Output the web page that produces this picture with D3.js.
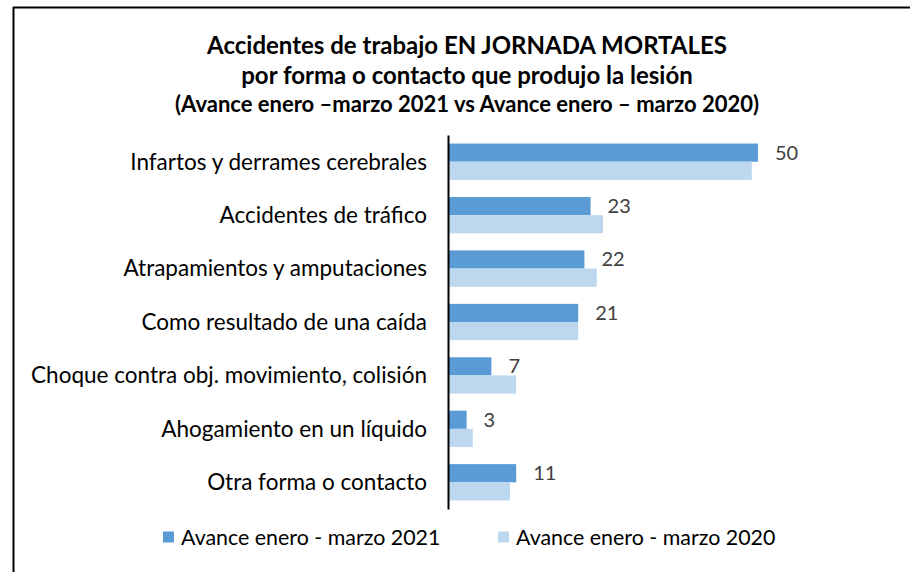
<!DOCTYPE html>
<html>
<head>
<meta charset="utf-8">
<script src="https://cdn.jsdelivr.net/npm/d3@7"></script>
<style>
  body { margin: 0; background: #fff; }
  svg text { font-family: Lato, "Open Sans", sans-serif; }
</style>
</head>
<body>
<div class="canvas"></div>
<script>
// data
const categories = [
  "Infartos y derrames cerebrales",
  "Accidentes de tráfico",
  "Atrapamientos y amputaciones",
  "Como resultado de una caída",
  "Choque contra obj. movimiento, colisión",
  "Ahogamiento en un líquido",
  "Otra forma o contacto",
];
const values2021 = [50, 23, 22, 21, 7, 3, 11];
const values2020 = [49, 25, 24, 21, 11, 4, 10];
const seriesNames = ["Avance enero - marzo 2021", "Avance enero - marzo 2020"];
const titleLines = [
  "Accidentes de trabajo EN JORNADA MORTALES",
  "por forma o contacto que produjo la lesión",
  "(Avance enero –marzo 2021 vs Avance enero – marzo 2020)",
];

// dimensions
const dims = { width: 910, height: 572 };
const plot = { left: 448, top: 135, bottom: 509 };
const colors = ["#5B9BD5", "#BDD7EE"];

const svg = d3
  .select(".canvas")
  .append("svg")
  .attr("width", dims.width)
  .attr("height", dims.height);

// frame (top and left only visible)
svg.append("line")
  .attr("x1", 13).attr("x2", dims.width).attr("y1", 7.5).attr("y2", 7.5)
  .attr("stroke", "#000").attr("stroke-width", 2);
svg.append("line")
  .attr("x1", 13.5).attr("x2", 13.5).attr("y1", 7).attr("y2", dims.height)
  .attr("stroke", "#000").attr("stroke-width", 2);

// title
const titleY = [54, 84, 112];
const titleSize = [24, 24, 22];
svg.selectAll(".title")
  .data(titleLines)
  .enter()
  .append("text")
  .attr("class", "title")
  .attr("x", 467)
  .attr("y", (d, i) => titleY[i])
  .attr("text-anchor", "middle")
  .attr("font-weight", "bold")
  .attr("font-size", (d, i) => titleSize[i])
  .attr("fill", "#000")
  .text((d) => d);

// scales
const x = d3.scaleLinear().domain([0, 50]).range([plot.left, 758]);
const y = d3.scaleBand().domain(categories).range([plot.top, plot.bottom]).paddingInner(0.32).paddingOuter(0.16);
const ySub = d3.scaleBand().domain([0, 1]).range([0, y.bandwidth()]);

// bars
const rows = categories.map((c, i) => ({ cat: c, vals: [values2021[i], values2020[i]] }));
const groups = svg.selectAll(".row")
  .data(rows)
  .enter()
  .append("g")
  .attr("class", "row")
  .attr("transform", (d) => `translate(0, ${y(d.cat)})`);

groups.selectAll("rect")
  .data((d) => d.vals)
  .enter()
  .append("rect")
  .attr("x", x(0))
  .attr("y", (d, i) => ySub(i))
  .attr("width", (d) => x(d) - x(0))
  .attr("height", ySub.bandwidth())
  .attr("fill", (d, i) => colors[i]);

// value labels (2021 only)
groups.append("text")
  .attr("x", (d) => x(d.vals[0]) + 17)
  .attr("y", ySub(0) + ySub.bandwidth() / 2)
  .attr("dy", "0.35em")
  .attr("font-size", 20)
  .attr("fill", "#404040")
  .text((d) => d.vals[0]);

// y axis
const yAxis = d3.axisLeft(y).tickSize(0).tickPadding(21);
const axisG = svg.append("g")
  .attr("transform", `translate(${plot.left}, 0)`)
  .call(yAxis);
axisG.select(".domain").attr("stroke", "#000").attr("stroke-width", 2);
axisG.selectAll("text")
  .attr("font-size", 22.5)
  .attr("fill", "#000")
  .attr("font-family", "Lato, 'Open Sans', sans-serif")
  .attr("dy", "0.35em");

// legend
const legendX = [163, 498];
const legend = svg.selectAll(".legend")
  .data(seriesNames)
  .enter()
  .append("g")
  .attr("class", "legend")
  .attr("transform", (d, i) => `translate(${legendX[i]}, 537)`);
legend.append("rect")
  .attr("x", 0).attr("y", -5.5)
  .attr("width", 11).attr("height", 11)
  .attr("fill", (d, i) => colors[i]);
legend.append("text")
  .attr("x", 18)
  .attr("dy", "0.35em")
  .attr("font-size", 21.4)
  .attr("fill", "#000")
  .text((d) => d);
</script>
</body>
</html>
